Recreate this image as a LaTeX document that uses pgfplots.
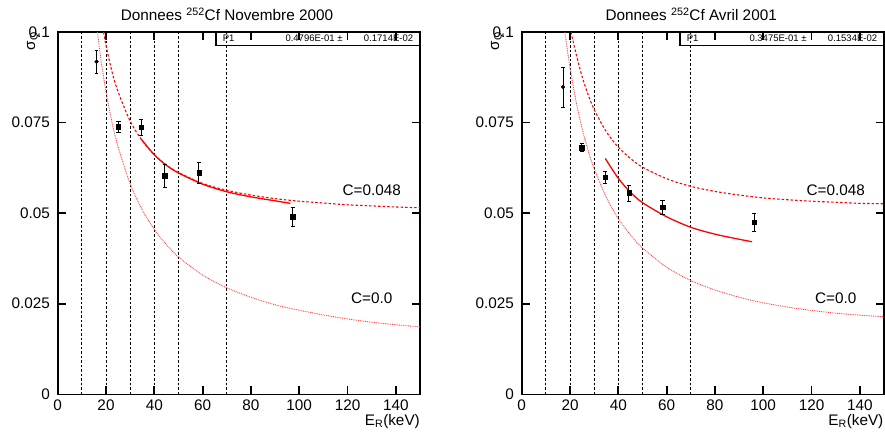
\documentclass[border=0pt]{standalone}
\usepackage{pgfplots}
\pgfplotsset{compat=1.18}
\usepackage{fontspec}
\setmainfont{Liberation Sans}
\definecolor{lightred}{RGB}{255,70,70}
\tikzset{tk/.style={black, solid, line width=1.8pt}}
\begin{document}
\fontsize{15.3}{18}\selectfont
\begin{tikzpicture}
\path[use as bounding box] (0pt,0pt) rectangle (885pt,431pt);
\pgfplotsset{
 rootax/.style={
  scale only axis, width=362.3pt, height=362.3pt,
  xmin=0, xmax=150, ymin=0, ymax=0.1,
  xtick={0,20,40,60,80,100,120,140}, xticklabels={0,20,40,60,80,100,120,140},
  ytick={0,0.025,0.05,0.075,0.1}, yticklabels={0,0.025,0.05,0.075,0.1},
  tick align=inside,
  major tick length=0pt,
  axis line style={line width=1.6pt},
  xticklabel style={anchor=north, inner sep=0pt, yshift=-5.7pt},
  yticklabel style={anchor=east, inner sep=0pt, xshift=-7.7pt},
  /pgf/number format/assume math mode=true,
  scaled y ticks=false,
 },
 vline/.style={black, line width=0.8pt, dash pattern=on 2.5pt off 2pt},
 czero/.style={lightred, line width=0.9pt, dash pattern=on 0.9pt off 0.9pt, smooth},
 cfull/.style={red, line width=1.1pt, dash pattern=on 2.5pt off 2pt, smooth},
 cfit/.style={red, line width=1.3pt, smooth},
}

% ---------------- Left panel ----------------
\begin{axis}[rootax, at={(57.7pt,36.7pt)}, anchor=south west]
\addplot[vline] coordinates {(10,0) (10,0.1)};
\addplot[vline] coordinates {(20,0) (20,0.1)};
\addplot[vline] coordinates {(30,0) (30,0.1)};
\addplot[vline] coordinates {(40,0) (40,0.1)};
\addplot[vline] coordinates {(50,0) (50,0.1)};
\addplot[vline] coordinates {(70,0) (70,0.1)};
\addplot[czero] coordinates {(16.45,0.1) (18,0.0920) (20,0.0835) (22.5,0.0750) (25,0.0683) (30,0.0581) (35,0.0509) (40,0.0455) (45,0.0413) (50,0.0379) (60,0.0329) (70,0.0294) (80,0.0268) (90,0.0247) (100,0.0232) (110,0.0219) (120,0.0208) (130,0.0199) (140,0.0192) (150,0.0186)};
\addplot[cfull] coordinates {(19.0,0.1) (20,0.0963) (22.5,0.0890) (25,0.0835) (30,0.0754) (35,0.0700) (40,0.0661) (45,0.0633) (50,0.0612) (60,0.0582) (70,0.0563) (80,0.0550) (90,0.0540) (100,0.0533) (110,0.0528) (120,0.0523) (130,0.0520) (140,0.0517) (150,0.0515)};
\addplot[cfit] coordinates {(34.6,0.0704) (40,0.0661) (45,0.0632) (50,0.0611) (60,0.0580) (70,0.0559) (80,0.0545) (90,0.0534) (96.3,0.0527)};
\addplot[black, mark=*, mark size=1.9pt, only marks, error bars/.cd, y dir=both, y explicit, error bar style={line width=1pt}] coordinates {(16.1,0.0918) +- (0,0.0033)};
\addplot[black, mark=square*, mark size=2.2pt, only marks, error bars/.cd, y dir=both, y explicit, error bar style={line width=1pt}] coordinates {(25.1,0.0739) +- (0,0.0015) (34.6,0.0737) +- (0,0.0022) (44.3,0.0603) +- (0,0.0032) (58.5,0.0612) +- (0,0.0030) (97.3,0.0490) +- (0,0.0026)};
\node[inner sep=0pt] at (axis cs:130,0.0564) {C=0.048};
\node[inner sep=0pt] at (axis cs:130,0.0264) {C=0.0};
\end{axis}

% ---------------- Right panel ----------------
\begin{axis}[rootax, at={(521.7pt,36.7pt)}, anchor=south west]
\addplot[vline] coordinates {(10,0) (10,0.1)};
\addplot[vline] coordinates {(20,0) (20,0.1)};
\addplot[vline] coordinates {(30,0) (30,0.1)};
\addplot[vline] coordinates {(40,0) (40,0.1)};
\addplot[vline] coordinates {(50,0) (50,0.1)};
\addplot[vline] coordinates {(70,0) (70,0.1)};
\addplot[czero] coordinates {(17.9,0.1) (19,0.0946) (20,0.0902) (22.5,0.0808) (25,0.0734) (27.5,0.0673) (30,0.0623) (35,0.0544) (40,0.0485) (45,0.0440) (50,0.0404) (60,0.0351) (70,0.0314) (80,0.0288) (90,0.0268) (100,0.02525) (110,0.0241) (120,0.02315) (130,0.0224) (140,0.02185) (150,0.0214)};
\addplot[cfull] coordinates {(20.4,0.1) (22.5,0.0940) (25,0.0877) (27.5,0.0827) (30,0.0786) (35,0.0725) (40,0.0682) (45,0.0651) (50,0.0627) (60,0.0595) (70,0.0574) (80,0.0560) (90,0.0550) (100,0.0542) (110,0.0537) (120,0.0533) (130,0.0530) (140,0.0527) (150,0.0526)};
\addplot[cfit] coordinates {(34.6,0.0651) (40,0.0596) (45,0.0558) (50,0.0529) (60,0.0490) (70,0.0461) (80,0.0442) (90,0.0428) (95.4,0.0421)};
\addplot[black, mark=*, mark size=1.9pt, only marks, error bars/.cd, y dir=both, y explicit, error bar style={line width=1pt}] coordinates {(17.1,0.0848) +- (0,0.0056)};
\addplot[black, mark=square*, mark size=2.2pt, only marks, error bars/.cd, y dir=both, y explicit, error bar style={line width=1pt}] coordinates {(24.9,0.0681) +- (0,0.0011) (34.5,0.0600) +- (0,0.0016) (44.4,0.0556) +- (0,0.0022) (58.3,0.0517) +- (0,0.0020) (96.2,0.0475) +- (0,0.0026)};
\node[inner sep=0pt] at (axis cs:130,0.0564) {C=0.048};
\node[inner sep=0pt] at (axis cs:130,0.0264) {C=0.0};
\end{axis}

% ticks (inside, on all four sides)
\foreach \xo in {57.7,521.7} {
  \foreach \v in {20,40,60,80,100,120,140} {
    \draw[tk] ({\xo pt+\v*2.4153pt},36.7pt) -- ++(0pt,8.5pt);
    \draw[tk] ({\xo pt+\v*2.4153pt},399pt) -- ++(0pt,-8.5pt);
  }
  \foreach \yy in {127.28,217.85,308.43} {
    \draw[tk] (\xo pt,\yy pt) -- ++(8pt,0pt);
    \draw[tk] ({\xo pt+362.3pt},\yy pt) -- ++(-8pt,0pt);
  }
}

% titles
\node[anchor=base, inner sep=0pt] at (227pt,410.3pt) {Donnees \textsuperscript{252}Cf Novembre 2000};
\node[anchor=base, inner sep=0pt] at (691.2pt,410.3pt) {Donnees \textsuperscript{252}Cf Avril 2001};
% y labels
\node[rotate=90, anchor=base east, inner sep=0pt] at (35pt,399.3pt) {σ\textsubscript{Q}};
\node[rotate=90, anchor=base east, inner sep=0pt] at (499pt,399.3pt) {σ\textsubscript{Q}};
% x labels
\node[anchor=base east, inner sep=0pt] at (420pt,6pt) {E\textsubscript{R}(keV)};
\node[anchor=base east, inner sep=0pt] at (883.5pt,6pt) {E\textsubscript{R}(keV)};
% stats boxes
\draw[line width=1.1pt] (216pt,399pt) -- (216pt,385.3pt) -- (420pt,385.3pt);
\draw[line width=1.1pt] (680pt,399pt) -- (680pt,385.3pt) -- (884pt,385.3pt);
\begingroup\fontsize{9.5}{11}\selectfont
\node[anchor=base west, inner sep=0pt] at (222.7pt,389.3pt) {P1};
\node[anchor=base east, inner sep=0pt] at (342.7pt,389.3pt) {0.4796E-01 ±};
\node[anchor=base east, inner sep=0pt] at (413.3pt,389.3pt) {0.1714E-02};
\node[anchor=base west, inner sep=0pt] at (686.7pt,389.3pt) {P1};
\node[anchor=base east, inner sep=0pt] at (806.7pt,389.3pt) {0.3475E-01 ±};
\node[anchor=base east, inner sep=0pt] at (877.3pt,389.3pt) {0.1534E-02};
\endgroup
\end{tikzpicture}
\end{document}
